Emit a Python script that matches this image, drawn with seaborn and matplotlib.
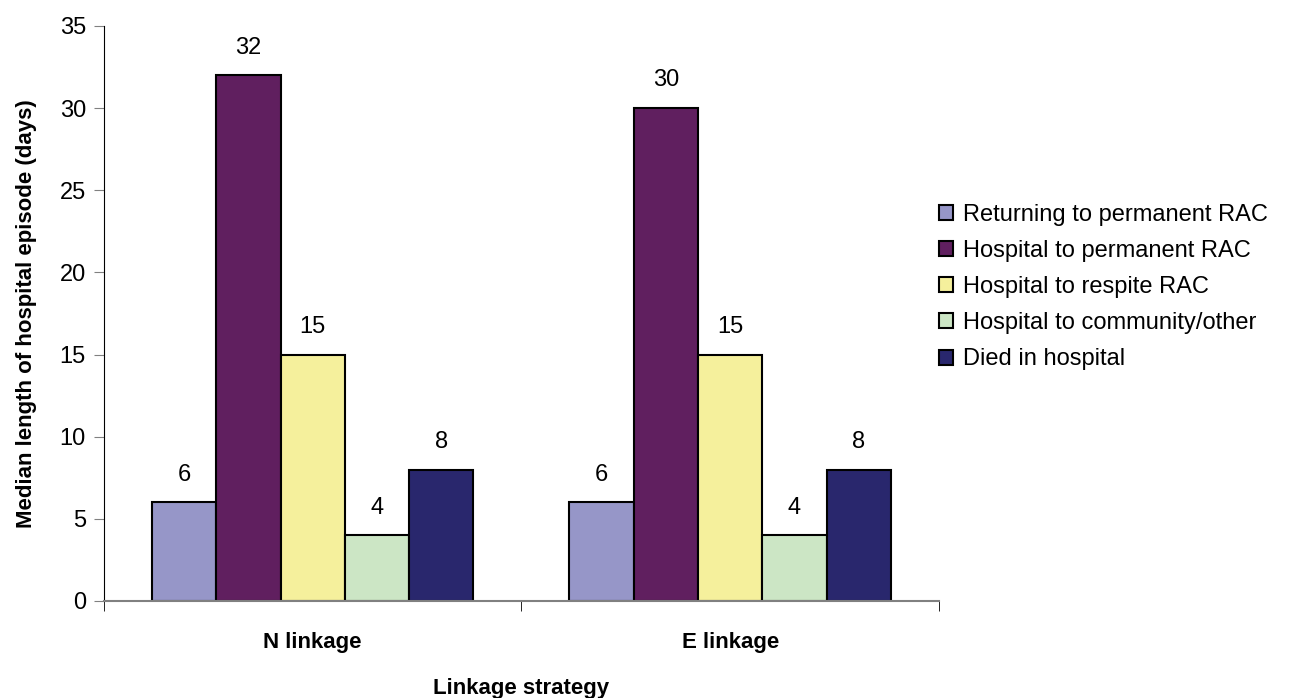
import pandas as pd
import seaborn as sns
import matplotlib.pyplot as plt
from matplotlib.ticker import FixedLocator

strategies = ["N linkage", "E linkage"]
groups = ["Returning to permanent RAC", "Hospital to permanent RAC",
          "Hospital to respite RAC", "Hospital to community/other",
          "Died in hospital"]
n_linkage = [6, 32, 15, 4, 8]
e_linkage = [6, 30, 15, 4, 8]
colors = ["#9696C8", "#601F5F", "#F5F09C", "#CCE6C5", "#29276D"]

rows = []
for s, vals in zip(strategies, [n_linkage, e_linkage]):
    for g, v in zip(groups, vals):
        rows.append({"strategy": s, "group": g, "days": v})
df = pd.DataFrame(rows)

sns.set_style("white")
plt.rcParams['font.family'] = ['Liberation Sans', 'DejaVu Sans']
plt.rcParams['text.color'] = 'black'
plt.rcParams['axes.labelcolor'] = 'black'
plt.rcParams['xtick.color'] = 'black'
plt.rcParams['ytick.color'] = 'black'

fig = plt.figure(figsize=(13.03, 6.98), dpi=100)
ax = fig.add_axes([0.0798, 0.139, 0.6408, 0.8238])

sns.barplot(data=df, x="strategy", y="days", hue="group", order=strategies,
            hue_order=groups, palette=colors, width=0.77, saturation=1,
            edgecolor="black", linewidth=1.5, ax=ax)

for cont in ax.containers:
    ax.bar_label(cont, padding=12, fontsize=17)

ax.set_xlim(-0.5, 1.5)
ax.set_ylim(0, 35)
ax.set_yticks(range(0, 36, 5))
ax.tick_params(axis="y", labelsize=17, length=7, color="#808080", left=True,
               direction="out", pad=6, labelcolor="black")
ax.tick_params(axis="x", which="major", length=0, labelsize=16, pad=22)
ax.xaxis.set_minor_locator(FixedLocator([-0.5, 0.5, 1.5]))
ax.tick_params(axis="x", which="minor", length=7, color="black", bottom=True)
for lbl in ax.get_xticklabels():
    lbl.set_fontweight("bold")

ax.spines["top"].set_visible(False)
ax.spines["right"].set_visible(False)
ax.spines["left"].set_color("black")
ax.spines["bottom"].set_color("#808080")
ax.spines["bottom"].set_linewidth(1.5)

ax.set_xlabel("Linkage strategy", fontsize=16, fontweight="bold", labelpad=18)
ax.set_ylabel("Median length of hospital episode (days)", fontsize=16,
              fontweight="bold", labelpad=16)

leg = ax.legend(loc="center left", bbox_to_anchor=(1.0, 0.546), frameon=False,
                fontsize=17, handlelength=0.6, handleheight=0.6,
                handletextpad=0.4, labelspacing=0.6, borderaxespad=0,
                borderpad=0)

fig.savefig("out.png", dpi=100)
